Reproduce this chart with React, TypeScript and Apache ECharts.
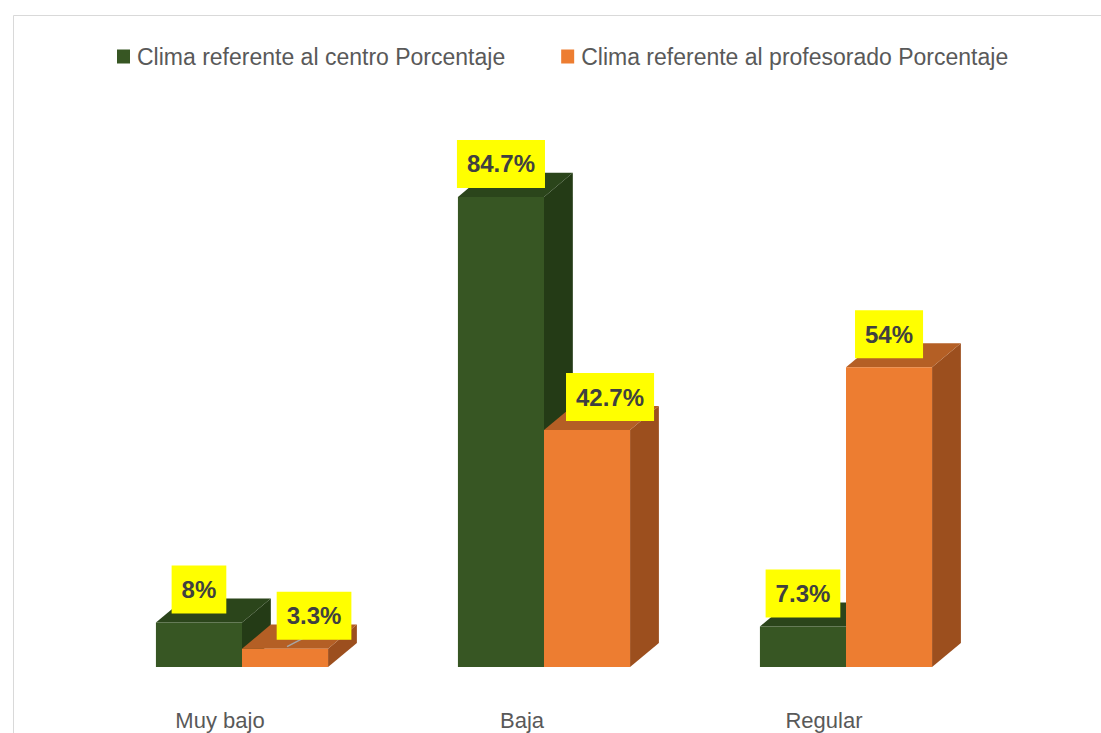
import React, { useEffect, useRef } from "react";
import * as echarts from "echarts";

const categories = ["Muy bajo", "Baja", "Regular"];
const seriesNames = [
  "Clima referente al centro Porcentaje",
  "Clima referente al profesorado Porcentaje",
];
const centro = [8, 84.7, 7.3];
const profesorado = [3.3, 42.7, 54];
const valueLabels = [
  ["8%", "84.7%", "7.3%"],
  ["3.3%", "42.7%", "54%"],
];

// styling (not data)
const palette = [
  { front: "#375623", top: "#2b451b", side: "#243b16" },
  { front: "#ED7D31", top: "#B45F25", side: "#9C4F1E" },
];
const labelShift = [
  [0, 0, 0],
  [29, 23, 0],
];

const FONT = "'Liberation Sans', Arial, sans-serif";

function makeRender(sIdx: number) {
  return (params: any, api: any) => {
    const cat = api.value(0);
    const val = api.value(1);
    const base = api.coord([cat, 0]);
    const top = api.coord([cat, val]);
    const band = api.size([1, 0])[0];
    const w = band * 0.285;
    const dx = w * 0.335;
    const dy = w * 0.28;
    const x0 = base[0] + (sIdx === 0 ? -w : 0);
    const x1 = x0 + w;
    const yT = top[1];
    const yB = base[1];
    const c = palette[sIdx];
    const lx = (x0 + x1) / 2 + labelShift[sIdx][cat];
    const ly = yT - 9;
    const children: any[] = [
      {
        type: "polygon",
        shape: { points: [[x1, yT], [x1 + dx, yT - dy], [x1 + dx, yB - dy], [x1, yB]] },
        style: { fill: c.side },
      },
      {
        type: "polygon",
        shape: { points: [[x0, yT], [x0 + dx, yT - dy], [x1 + dx, yT - dy], [x1, yT]] },
        style: { fill: c.top },
      },
      {
        type: "rect",
        shape: { x: x0, y: yT, width: w, height: yB - yT },
        style: { fill: c.front },
      },
    ];
    if (labelShift[sIdx][cat] > 25) {
      children.push({
        type: "line",
        shape: { x1: lx - 27, y1: ly + 7, x2: lx, y2: ly - 7 },
        style: { stroke: "#A6A6A6", lineWidth: 1.5 },
        z2: 10,
      });
    }
    children.push({
      type: "text",
      z2: 20,
      style: {
        text: valueLabels[sIdx][cat],
        x: lx,
        y: ly,
        align: "center",
        verticalAlign: "bottom",
        fill: "#404040",
        font: `bold 24px ${FONT}`,
        lineHeight: 28,
        backgroundColor: "#FFFF00",
        padding: [10, 10, 10, 10],
      },
    });
    return { type: "group", children };
  };
}

export default function App() {
  const ref = useRef<HTMLDivElement>(null);
  useEffect(() => {
    if (!ref.current) return;
    const chart = echarts.init(ref.current, undefined, { renderer: "svg" });
    const data = [centro, profesorado];
    chart.setOption({
      animation: false,
      backgroundColor: "#ffffff",
      graphic: [
        {
          type: "rect",
          shape: { x: 13.5, y: 15.5, width: 1200, height: 800 },
          style: { fill: "none", stroke: "#D9D9D9", lineWidth: 1 },
          silent: true,
        },
      ],
      legend: {
        left: 117,
        top: 45,
        padding: 0,
        itemWidth: 13,
        itemHeight: 14,
        itemGap: 56,
        icon: "rect",
        textStyle: { fontSize: 23, color: "#595959", fontFamily: FONT, padding: [0, 0, 0, 2] },
        data: seriesNames,
      },
      grid: { left: 91, right: 104, top: 112, bottom: 66 },
      xAxis: {
        type: "category",
        data: categories,
        axisLine: { show: false },
        axisTick: { show: false },
        axisLabel: {
          color: "#595959",
          fontSize: 22,
          fontFamily: FONT,
          margin: 42,
          padding: [0, 44, 0, 0],
        },
      },
      yAxis: {
        type: "value",
        min: 0,
        max: 100,
        show: false,
        splitLine: { show: false },
      },
      series: data.map((arr, sIdx) => ({
        name: seriesNames[sIdx],
        type: "custom",
        itemStyle: { color: palette[sIdx].front },
        renderItem: makeRender(sIdx),
        encode: { x: 0, y: 1 },
        data: arr.map((v, i) => [i, v]),
        z: 2 + sIdx,
      })),
    });
    return () => chart.dispose();
  }, []);
  return (
    <div
      ref={ref}
      style={{ position: "fixed", left: 0, top: 0, width: 1101, height: 733 }}
    />
  );
}
